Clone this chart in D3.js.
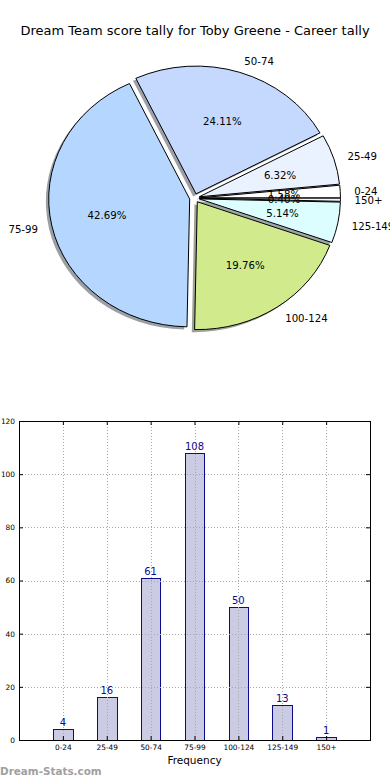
<!DOCTYPE html>
<html><head><meta charset="utf-8">
<script src="https://cdn.jsdelivr.net/npm/d3@7"></script>
<style>body{margin:0;background:#fff}svg{display:block;font-family:"DejaVu Sans",sans-serif}</style>
</head><body>
<svg id="c" width="390" height="780"></svg>
<script>
const title = "Dream Team score tally for Toby Greene - Career tally";
const categories = ["0-24","25-49","50-74","75-99","100-124","125-149","150+"];
const counts = [4,16,61,108,50,13,1];
const sliceColors = ["#ffffff","#eaf1ff","#c5d9ff","#b5d7ff","#d0ea8c","#dcfefe","#f4f4ff"];
const yTicks = [0,20,40,60,80,100,120];
const xLabel = "Frequency";
const watermark = "Dream-Stats.com";

const svg = d3.select("#c");
svg.append("rect").attr("width",390).attr("height",780).attr("fill","#fff");

// title
svg.append("text").attr("x",195).attr("y",35).attr("text-anchor","middle")
  .attr("font-size",13).attr("fill","#000").text(title);

// ---------- PIE ----------
const cx = 194.5, cy = 198.1, rx = 141, ry = 127.8, explode = 0.035;
const total = d3.sum(counts);
const pie = d3.pie().sort(null).value(d=>d).startAngle(Math.PI/2).endAngle(Math.PI/2 - 2*Math.PI);
const arcs = pie(counts);
const arc = d3.arc().innerRadius(0).outerRadius(1);
const dir = a => { const m = (a.startAngle + a.endAngle)/2; return [Math.sin(m), -Math.cos(m)]; };

const pg = svg.append("g");
// shadows
pg.selectAll("path.sh").data(arcs).enter().append("path").attr("class","sh")
  .attr("transform", a => { const [ux,uy] = dir(a);
    return `translate(${cx + explode*rx*ux - 0.02*rx},${cy + explode*ry*uy + 0.02*ry}) scale(${rx},${ry})`; })
  .attr("d", arc)
  .attr("fill", (a,i) => { const c = d3.rgb(sliceColors[i]); return d3.rgb(c.r*0.3,c.g*0.3,c.b*0.3).toString(); })
  .attr("fill-opacity",0.5);
// wedges
pg.selectAll("path.w").data(arcs).enter().append("path").attr("class","w")
  .attr("transform", a => { const [ux,uy] = dir(a);
    return `translate(${cx + explode*rx*ux},${cy + explode*ry*uy}) scale(${rx},${ry})`; })
  .attr("d", arc)
  .attr("fill", (a,i) => sliceColors[i])
  .attr("stroke","#000").attr("stroke-width",1)
  .attr("vector-effect","non-scaling-stroke").attr("stroke-linejoin","round");
// labels
pg.selectAll("text.lab").data(arcs).enter().append("text").attr("class","lab")
  .attr("x", a => cx + (explode+1.1)*rx*dir(a)[0])
  .attr("y", a => cy + (explode+1.1)*ry*dir(a)[1])
  .attr("dy","0.45em")
  .attr("text-anchor", a => dir(a)[0] > 0 ? "start" : "end")
  .attr("font-size",10.2).attr("fill","#000")
  .text((a,i) => categories[i]);
pg.selectAll("text.pct").data(arcs).enter().append("text").attr("class","pct")
  .attr("x", a => cx + (explode+0.6)*rx*dir(a)[0])
  .attr("y", a => cy + (explode+0.6)*ry*dir(a)[1])
  .attr("dy","0.42em").attr("text-anchor","middle")
  .attr("font-size",10.2).attr("fill","#000")
  .text(a => (a.value/total*100).toFixed(2) + "%");

// ---------- BAR ----------
const x = d3.scaleLinear().domain([-1,7]).range([19,370]);
const y = d3.scaleLinear().domain([0,120]).range([740,421]);
const idx = d3.range(categories.length);
const barW = 0.45;
const bg = svg.append("g");

bg.selectAll("rect.bar").data(counts).enter().append("rect").attr("class","bar")
  .attr("x",(d,i)=>Math.round(x(i-barW/2))+0.5)
  .attr("width",(d,i)=>Math.round(x(i+barW/2))-Math.round(x(i-barW/2)))
  .attr("y",d=>Math.round(y(d))+0.5)
  .attr("height",d=>Math.round(y(0))-Math.round(y(d)))
  .attr("fill","#cbcbe3").attr("stroke","#0b0b8c").attr("stroke-width",1);

// grid
const grid = bg.append("g").attr("stroke","#a8a8a8").attr("stroke-width",1).attr("stroke-dasharray","1,2");
grid.selectAll("line.gx").data(idx).enter().append("line")
  .attr("x1",i=>Math.round(x(i))+0.5).attr("x2",i=>Math.round(x(i))+0.5)
  .attr("y1",y(120)).attr("y2",y(0));
grid.selectAll("line.gy").data(yTicks.slice(1,-1)).enter().append("line")
  .attr("y1",v=>Math.round(y(v))+0.5).attr("y2",v=>Math.round(y(v))+0.5)
  .attr("x1",x(-1)).attr("x2",x(7));

// axes
const fmtCat = i => categories[i];
const ax = (gen, tr) => {
  const g = bg.append("g").attr("transform",tr).call(gen);
  g.select(".domain").remove();
  g.selectAll("line").attr("stroke","#000");
  g.selectAll("text").attr("fill","#000").attr("font-family","DejaVu Sans").attr("font-size",7.4);
  return g;
};
ax(d3.axisBottom(x).tickValues(idx).tickFormat(fmtCat).tickSizeInner(-4).tickSizeOuter(0).tickPadding(5), `translate(0,${y(0)})`);
ax(d3.axisTop(x).tickValues(idx).tickFormat("").tickSizeInner(-4).tickSizeOuter(0), `translate(0,${y(120)})`);
ax(d3.axisLeft(y).tickValues(yTicks).tickFormat(d3.format("d")).tickSizeInner(-4).tickSizeOuter(0).tickPadding(4), `translate(${x(-1)},0)`);
ax(d3.axisRight(y).tickValues(yTicks).tickFormat("").tickSizeInner(-4).tickSizeOuter(0), `translate(${x(7)},0)`);

// frame
bg.append("rect").attr("x",Math.round(x(-1))+0.5).attr("y",Math.round(y(120))+0.5)
  .attr("width",Math.round(x(7))-Math.round(x(-1))).attr("height",Math.round(y(0))-Math.round(y(120)))
  .attr("fill","none").attr("stroke","#000").attr("stroke-width",1);

// value labels
bg.selectAll("text.val").data(counts).enter().append("text").attr("class","val")
  .attr("x",(d,i)=>x(i)).attr("y",d=>y(d)-3)
  .attr("text-anchor","middle").attr("font-size",10).attr("fill","#0b0b8c")
  .text(d=>d);

// x label
svg.append("text").attr("x",(x(-1)+x(7))/2).attr("y",764).attr("text-anchor","middle")
  .attr("font-size",10.5).attr("fill","#000").text(xLabel);

// watermark
svg.append("text").attr("x",0).attr("y",775).attr("font-size",10.4).attr("font-weight","bold")
  .attr("fill","#a0a0a0").text(watermark);
</script>
</body></html>
